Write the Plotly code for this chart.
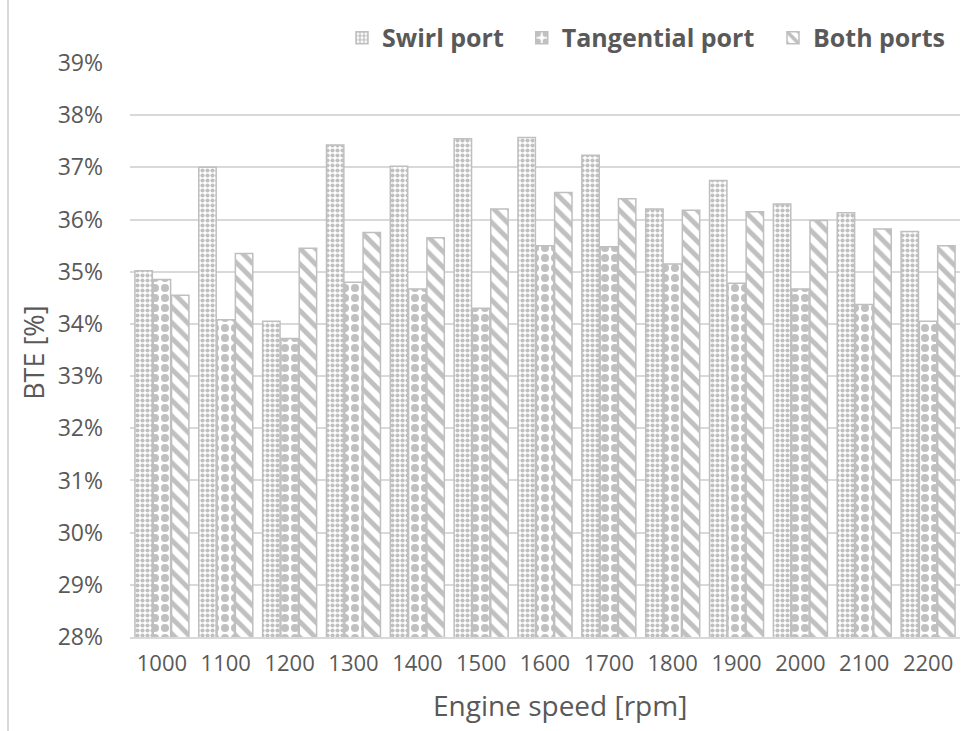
import plotly.graph_objects as go

# Engine speed categories and brake thermal efficiency (fraction) per intake configuration
speeds = ["1000", "1100", "1200", "1300", "1400", "1500", "1600",
          "1700", "1800", "1900", "2000", "2100", "2200"]
swirl_port = [0.3502, 0.3700, 0.3405, 0.3743, 0.3702, 0.3755, 0.3757,
              0.3723, 0.3620, 0.3675, 0.3630, 0.3613, 0.3577]
tangential_port = [0.3485, 0.3408, 0.3372, 0.3480, 0.3467, 0.3430, 0.3550,
                   0.3548, 0.3515, 0.3478, 0.3467, 0.3437, 0.3405]
both_ports = [0.3455, 0.3535, 0.3545, 0.3575, 0.3565, 0.3620, 0.3652,
              0.3640, 0.3618, 0.3615, 0.3598, 0.3582, 0.3550]

y_ticks = [0.28, 0.29, 0.30, 0.31, 0.32, 0.33, 0.34, 0.35, 0.36, 0.37, 0.38, 0.39]

GREY = "#c0c0c0"
EDGE = "#bfbfbf"
TEXT = "#595959"
FONT = "Open Sans"

# name, values, fill pattern, legend id, legend x position
series = [
    ("Swirl port", swirl_port, dict(shape=".", size=5, solidity=0.55), "legend", 0.2554),
    ("Tangential port", tangential_port, dict(shape=".", size=10, solidity=0.5), "legend2", 0.472),
    ("Both ports", both_ports, dict(shape="\\", size=11, solidity=0.45), "legend3", 0.7747),
]

fig = go.Figure()
legend_layout = {}
for name, vals, pat, leg, lx in series:
    fig.add_trace(go.Bar(
        name=name,
        x=speeds,
        y=vals,
        legend=leg,
        showlegend=True,
        marker=dict(
            color="white",
            line=dict(color=EDGE, width=1.5),
            pattern=dict(fgcolor=GREY, bgcolor="white", fillmode="replace", **pat),
        ),
    ))
    legend_layout[leg] = dict(
        orientation="h",
        x=lx, xanchor="left",
        y=1.0436, yanchor="middle",
        font=dict(family=FONT, size=25, color=TEXT, weight="bold"),
        itemwidth=30,
        bgcolor="rgba(0,0,0,0)",
        visible=True,
    )

fig.update_layout(
    width=972,
    height=731,
    showlegend=True,
    paper_bgcolor="white",
    plot_bgcolor="white",
    barmode="group",
    bargap=0.14,
    bargroupgap=0.05,
    margin=dict(l=130, r=12, t=63, b=94),
    font=dict(family=FONT, color=TEXT, size=22),
    xaxis=dict(
        type="category",
        showgrid=False,
        showline=True,
        linecolor="#d9d9d9",
        linewidth=1.5,
        ticks="",
        ticklabelstandoff=6,
        tickfont=dict(family=FONT, size=22, color=TEXT),
    ),
    yaxis=dict(
        range=[0.28, 0.39],
        tickvals=y_ticks,
        tickformat=".0%",
        showgrid=True,
        gridcolor="#d9d9d9",
        gridwidth=1.5,
        zeroline=False,
        showline=False,
        ticks="",
        ticklabelstandoff=26,
        tickfont=dict(family=FONT, size=23, color=TEXT),
    ),
    **legend_layout,
)

# Axis titles
fig.add_annotation(
    text="Engine speed [rpm]", xref="paper", yref="paper",
    x=0.518, y=-0.1185, xanchor="center", yanchor="middle",
    showarrow=False, font=dict(family=FONT, size=28, color=TEXT),
)
fig.add_annotation(
    text="BTE [%]", xref="paper", yref="paper", textangle=-90,
    x=-0.1157, y=0.495, xanchor="center", yanchor="middle",
    showarrow=False, font=dict(family=FONT, size=27, color=TEXT),
)

# Outer frame edge on the left side of the chart area
fig.add_shape(
    type="line", xref="paper", yref="paper",
    x0=-0.147, x1=-0.147, y0=-0.17, y1=1.12,
    line=dict(color="#d9d9d9", width=2),
)

fig.write_html("out.html")
